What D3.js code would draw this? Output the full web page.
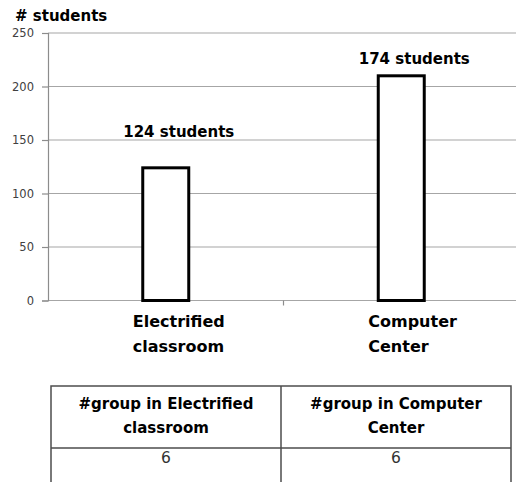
<!DOCTYPE html>
<html>
<head>
<meta charset="utf-8">
<script src="https://cdn.jsdelivr.net/npm/d3@7"></script>
<style>
  body { margin: 0; background: #fff; }
  svg { display: block; font-family: "DejaVu Sans", sans-serif; }
</style>
</head>
<body>
<script>
// chart data
const categories = ["Electrified classroom", "Computer Center"];
const categoryLines = [["Electrified", "classroom"], ["Computer", "Center"]];
const values = [124, 210];
const barLabels = ["124 students", "174 students"];
const labelLevels = [153, 221]; // where the annotation sits, in y units
const yTicks = [0, 50, 100, 150, 200, 250];

// table under the chart
const tableHeaders = [["#group in Electrified", "classroom"], ["#group in Computer", "Center"]];
const tableValues = ["6", "6"];

var width = 516, height = 482;

var svg = d3.select("body").append("svg")
    .attr("width", width)
    .attr("height", height);

var x = d3.scaleBand()
    .domain(categories)
    .range([48, 519]);

var y = d3.scaleLinear()
    .domain([0, 250])
    .range([300.5, 33]);

// gridlines
svg.append("g")
    .selectAll("line")
    .data(yTicks)
    .enter().append("line")
    .attr("x1", 48)
    .attr("x2", 519)
    .attr("y1", d => y(d))
    .attr("y2", d => y(d))
    .attr("stroke", "#a6a6a6")
    .attr("stroke-width", 1.2);

// y axis
var yAxis = svg.append("g")
    .attr("transform", "translate(48,0)")
    .call(d3.axisLeft(y).tickValues(yTicks).tickSize(6).tickPadding(8));
yAxis.select(".domain").attr("stroke", "#8c8c8c").attr("stroke-width", 1.2);
yAxis.selectAll(".tick line").attr("stroke", "#8c8c8c").attr("stroke-width", 1.2);
yAxis.selectAll(".tick text")
    .attr("font-family", "DejaVu Sans, sans-serif")
    .attr("font-size", "11.5px")
    .attr("fill", "#404040");

// x axis ticks at band boundaries
svg.append("g")
    .selectAll("line")
    .data(categories.slice(1))
    .enter().append("line")
    .attr("x1", d => x(d))
    .attr("x2", d => x(d))
    .attr("y1", y(0))
    .attr("y2", y(0) + 5)
    .attr("stroke", "#8c8c8c")
    .attr("stroke-width", 1.2);

// bars
var barW = 46;
svg.append("g")
    .selectAll("rect")
    .data(categories)
    .enter().append("rect")
    .attr("x", d => x(d) + x.bandwidth() / 2 - barW / 2)
    .attr("y", (d, i) => y(values[i]))
    .attr("width", barW)
    .attr("height", (d, i) => y(0) - y(values[i]))
    .attr("fill", "#fff")
    .attr("stroke", "#000")
    .attr("stroke-width", 3);

// annotation over bars
svg.append("g")
    .selectAll("text")
    .data(categories)
    .enter().append("text")
    .attr("x", d => x(d) + x.bandwidth() / 2 + 13)
    .attr("y", (d, i) => y(labelLevels[i]))
    .attr("text-anchor", "middle")
    .attr("font-size", "15px")
    .attr("font-weight", "bold")
    .text((d, i) => barLabels[i]);

// category labels (two lines, left aligned)
var cat = svg.append("g")
    .selectAll("text")
    .data(categories)
    .enter().append("text")
    .attr("x", d => x(d) + x.bandwidth() / 2 - 33)
    .attr("y", 327)
    .attr("font-size", "16px")
    .attr("font-weight", "bold");
cat.selectAll("tspan")
    .data((d, i) => categoryLines[i])
    .enter().append("tspan")
    .attr("x", function() { return d3.select(this.parentNode).attr("x"); })
    .attr("dy", (d, i) => i === 0 ? 0 : 25)
    .text(d => d);

// y title
svg.append("text")
    .attr("x", 15)
    .attr("y", 21)
    .attr("font-size", "15px")
    .attr("font-weight", "bold")
    .text("# students");

// table
var tx = d3.scaleBand()
    .domain(d3.range(tableHeaders.length))
    .range([51, 511]);
var tTop = 386, tMid = 448, tBot = 495;

var tbl = svg.append("g")
    .attr("stroke", "#4d4d4d")
    .attr("stroke-width", 1.5)
    .attr("fill", "none");
tbl.append("rect")
    .attr("x", tx.range()[0])
    .attr("y", tTop)
    .attr("width", tx.range()[1] - tx.range()[0])
    .attr("height", tBot - tTop);
tbl.append("line")
    .attr("x1", tx.range()[0]).attr("x2", tx.range()[1])
    .attr("y1", tMid).attr("y2", tMid);
tbl.selectAll(".col")
    .data(d3.range(1, tableHeaders.length))
    .enter().append("line")
    .attr("class", "col")
    .attr("x1", d => tx(d)).attr("x2", d => tx(d))
    .attr("y1", tTop).attr("y2", tBot);

var head = svg.append("g")
    .selectAll("text")
    .data(tableHeaders)
    .enter().append("text")
    .attr("x", (d, i) => tx(i) + tx.bandwidth() / 2)
    .attr("y", 409)
    .attr("text-anchor", "middle")
    .attr("font-size", "15px")
    .attr("font-weight", "bold");
head.selectAll("tspan")
    .data(d => d)
    .enter().append("tspan")
    .attr("x", function() { return d3.select(this.parentNode).attr("x"); })
    .attr("dy", (d, i) => i === 0 ? 0 : 24)
    .text(d => d);

svg.append("g")
    .selectAll("text")
    .data(tableValues)
    .enter().append("text")
    .attr("x", (d, i) => tx(i) + tx.bandwidth() / 2)
    .attr("y", 463)
    .attr("text-anchor", "middle")
    .attr("font-size", "15.5px")
    .attr("fill", "#333")
    .text(d => d);
</script>
</body>
</html>
